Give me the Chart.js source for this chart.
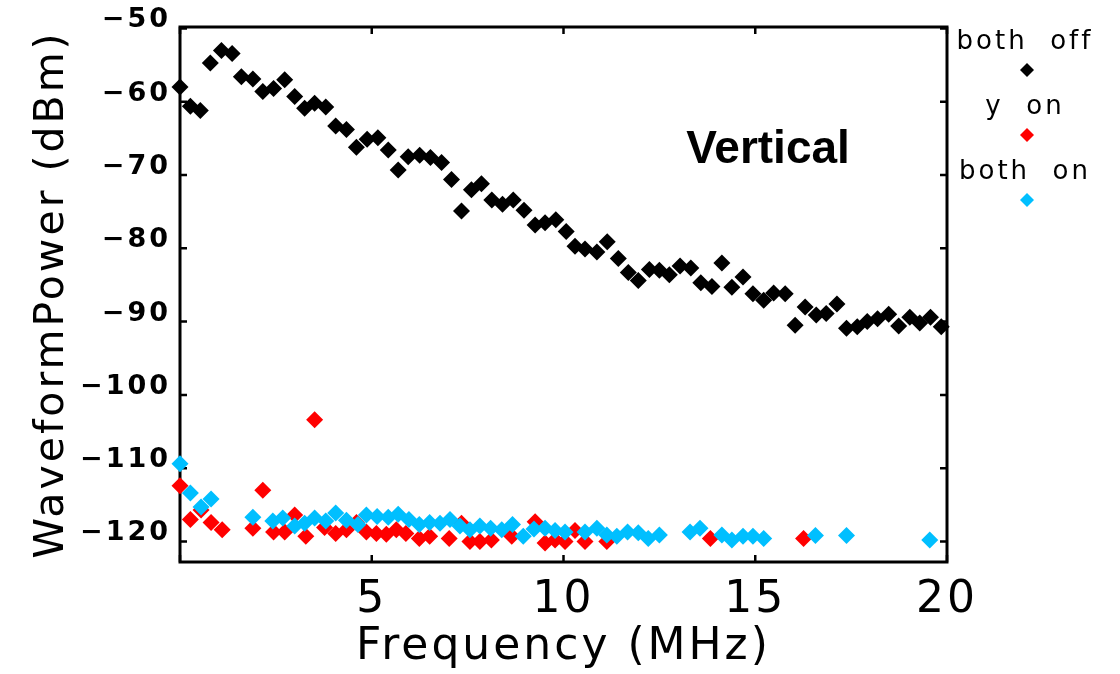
<!DOCTYPE html>
<html>
<head>
<meta charset="utf-8">
<script src="https://cdn.jsdelivr.net/npm/chart.js@4.4.2/dist/chart.umd.min.js"></script>
<style>
  html, body { margin: 0; padding: 0; background: #fff; }
</style>
</head>
<body>
<canvas id="chart" width="1120" height="674"></canvas>
<script>
const FONT = '"DejaVu Sans", sans-serif';
const TICK = 7;

const seriesLabels = ['both  off', 'y  on', 'both  on'];
const seriesColors = ['#000000', '#ff0000', '#00bfff'];
const panelTitle = 'Vertical';

// frequency in MHz, power in dBm
const offFreq = [0.00, 0.27, 0.53, 0.79, 1.08, 1.36, 1.60, 1.90, 2.16, 2.44,
  2.73, 2.99, 3.25, 3.51, 3.80, 4.06, 4.34, 4.60, 4.88, 5.16,
  5.43, 5.69, 5.95, 6.25, 6.53, 6.82, 7.08, 7.34, 7.60, 7.86,
  8.13, 8.41, 8.69, 8.97, 9.26, 9.52, 9.80, 10.07, 10.30, 10.56,
  10.87, 11.14, 11.43, 11.69, 11.95, 12.24, 12.50, 12.76, 13.04, 13.32,
  13.58, 13.87, 14.13, 14.39, 14.68, 14.94, 15.22, 15.48, 15.78, 16.04,
  16.30, 16.59, 16.85, 17.13, 17.38, 17.66, 17.92, 18.19, 18.48, 18.74,
  19.03, 19.29, 19.57, 19.85];
const offPower = [-58.0, -60.6, -61.2, -54.7, -53.0, -53.4, -56.6, -56.9, -58.6, -58.2,
  -57.0, -59.3, -60.9, -60.2, -60.7, -63.3, -63.8, -66.2, -65.1, -64.9,
  -66.6, -69.3, -67.5, -67.3, -67.6, -68.3, -70.6, -74.9, -72.0, -71.2,
  -73.4, -74.0, -73.4, -74.8, -76.8, -76.5, -76.1, -77.7, -79.7, -80.1,
  -80.5, -79.1, -81.4, -83.3, -84.4, -82.9, -83.0, -83.6, -82.4, -82.7,
  -84.7, -85.2, -82.0, -85.3, -83.9, -86.2, -87.1, -86.1, -86.2, -90.5,
  -88.0, -89.1, -88.9, -87.6, -90.9, -90.7, -90.0, -89.6, -89.0, -90.6,
  -89.4, -90.2, -89.4, -90.7];

const yOnFreq = [0.00, 0.27, 0.55, 0.81, 1.10, 1.90, 2.16, 2.44, 2.73, 2.99,
  3.28, 3.51, 3.77, 4.06, 4.34, 4.60, 4.86, 5.12, 5.38, 5.64,
  5.89, 6.24, 6.51, 7.02, 7.34, 7.56, 7.82, 8.12, 8.65, 9.26,
  9.52, 9.78, 10.04, 10.30, 10.56, 11.13, 13.83, 16.26];
const yOnPower = [-112.4, -117.0, -115.7, -117.4, -118.4, -118.2, -113.0, -118.7, -118.7, -116.4,
  -119.3, -103.4, -118.1, -118.9, -118.4, -117.4, -118.7, -118.9, -119.0, -118.4,
  -118.9, -119.6, -119.3, -119.6, -117.5, -120.0, -120.0, -119.8, -119.3, -117.3,
  -120.2, -119.8, -120.0, -118.5, -120.0, -120.0, -119.6, -119.6];

const bothOnFreq = [0.00, 0.27, 0.55, 0.81, 1.90, 2.42, 2.68, 2.99, 3.25, 3.51,
  3.80, 4.06, 4.34, 4.64, 4.86, 5.14, 5.43, 5.69, 5.97, 6.24,
  6.51, 6.78, 7.04, 7.30, 7.56, 7.82, 8.10, 8.39, 8.67, 8.95,
  9.23, 9.52, 9.78, 10.04, 10.56, 10.87, 11.13, 11.39, 11.67, 11.95,
  12.21, 12.50, 13.30, 13.56, 14.13, 14.39, 14.68, 14.94, 15.22, 16.57,
  17.38, 19.55];
const bothOnPower = [-109.4, -113.4, -115.3, -114.2, -116.7, -117.2, -116.8, -117.9, -117.5, -116.8,
  -117.2, -116.1, -117.1, -117.7, -116.4, -116.6, -116.7, -116.3, -117.0, -117.7,
  -117.4, -117.5, -117.0, -117.9, -118.4, -117.9, -118.2, -118.4, -117.7, -119.3,
  -118.3, -118.2, -118.5, -118.7, -118.7, -118.2, -119.1, -119.3, -118.7, -118.8,
  -119.6, -119.1, -118.7, -118.2, -119.1, -119.8, -119.3, -119.3, -119.6, -119.2,
  -119.2, -119.8];

const toPoints = (xs, ys) => xs.map((x, i) => ({ x, y: ys[i] }));
const seriesData = [
  toPoints(offFreq, offPower),
  toPoints(yOnFreq, yOnPower),
  toPoints(bothOnFreq, bothOnPower)
];

const framePlugin = {
  id: 'frame',
  beforeDraw(chart) {
    chart.ctx.letterSpacing = '3px';
  },
  beforeDatasetsDraw(chart) {
    const { ctx, chartArea: a, scales: { x, y } } = chart;
    ctx.save();
    ctx.strokeStyle = '#000';
    ctx.lineWidth = 3;
    ctx.strokeRect(a.left, a.top, a.right - a.left, a.bottom - a.top);
    ctx.lineWidth = 2.5;
    ctx.beginPath();
    x.ticks.forEach(t => {
      const px = x.getPixelForValue(t.value);
      ctx.moveTo(px, a.bottom); ctx.lineTo(px, a.bottom - TICK);
      ctx.moveTo(px, a.top); ctx.lineTo(px, a.top + TICK);
    });
    y.ticks.forEach(t => {
      const py = y.getPixelForValue(t.value);
      ctx.moveTo(a.left, py); ctx.lineTo(a.left + TICK, py);
      ctx.moveTo(a.right, py); ctx.lineTo(a.right - TICK, py);
    });
    ctx.stroke();
    ctx.restore();
  },
  afterDraw(chart) {
    const ctx = chart.ctx;
    ctx.save();
    // legend: label above its marker
    ctx.font = `26px ${FONT}`;
    ctx.letterSpacing = '3px';
    ctx.textAlign = 'center';
    ctx.textBaseline = 'middle';
    seriesLabels.forEach((label, i) => {
      const cy = 42 + i * 65;
      ctx.fillStyle = '#000';
      ctx.fillText(label, 1025, cy);
      ctx.fillStyle = seriesColors[i];
      ctx.beginPath();
      ctx.moveTo(1027, cy + 21);
      ctx.lineTo(1034, cy + 28);
      ctx.lineTo(1027, cy + 35);
      ctx.lineTo(1020, cy + 28);
      ctx.closePath();
      ctx.fill();
    });
    ctx.letterSpacing = '0px';
    ctx.fillStyle = '#000';
    ctx.font = 'bold 46px "Liberation Sans", Arial, sans-serif';
    ctx.fillText(panelTitle, 768, 150);
    ctx.restore();
    ctx.letterSpacing = '0px';
  }
};

new Chart(document.getElementById('chart'), {
  type: 'scatter',
  data: {
    datasets: seriesData.map((data, i) => ({
      label: seriesLabels[i],
      data,
      order: 3 - i,
      clip: false,
      pointStyle: 'rectRot',
      pointRadius: 8.5,
      pointHoverRadius: 8.5,
      pointBorderWidth: 0,
      backgroundColor: seriesColors[i],
      borderColor: seriesColors[i]
    }))
  },
  options: {
    responsive: false,
    animation: false,
    devicePixelRatio: 1,
    layout: { padding: { top: 27, right: 173, left: 0, bottom: 0 } },
    plugins: {
      legend: { display: false },
      tooltip: { enabled: false }
    },
    scales: {
      x: {
        type: 'linear',
        min: 0,
        max: 20,
        grid: { display: false, drawTicks: false },
        border: { display: false },
        ticks: {
          stepSize: 5,
          padding: 12,
          color: '#000',
          font: { family: FONT, size: 44 },
          callback: v => (v === 0 ? '' : v)
        },
        title: {
          display: true,
          text: 'Frequency (MHz)',
          color: '#000',
          font: { family: FONT, size: 44 },
          padding: { top: 0, bottom: 0 }
        },
        afterFit: scale => { scale.height = 112; }
      },
      y: {
        type: 'linear',
        min: -122.8,
        max: -49.8,
        grid: { display: false, drawTicks: false },
        border: { display: false },
        ticks: {
          stepSize: 10,
          includeBounds: false,
          padding: 9,
          labelOffset: -8,
          color: '#000',
          font: { family: FONT, size: 27, weight: 'bold' },
          callback: v => String(v).replace('-', '\u2212')
        },
        title: {
          display: true,
          text: 'WaveformPower (dBm)',
          color: '#000',
          font: { family: FONT, size: 41 },
          padding: { top: 28, bottom: 0 }
        },
        afterFit: scale => { scale.width = 180; }
      }
    }
  },
  plugins: [framePlugin]
});
</script>
</body>
</html>
